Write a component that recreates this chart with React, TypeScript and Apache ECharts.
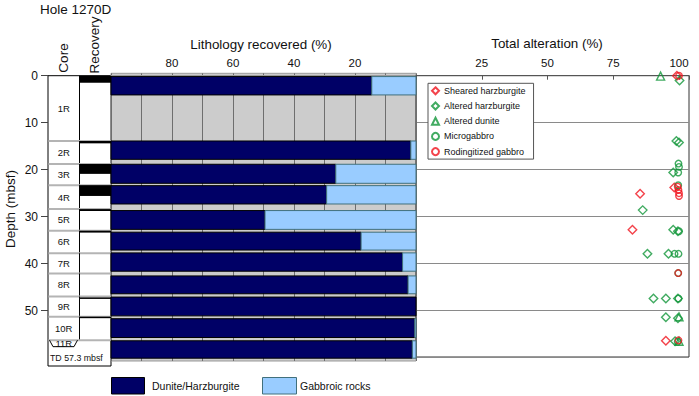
import React, { useEffect, useRef } from 'react';
import * as echarts from 'echarts';

const FONT = "'Liberation Sans', Arial, Helvetica, sans-serif";

// Cores (depth intervals, mbsf)
const coreNames = ['1R', '2R', '3R', '4R', '5R', '6R', '7R', '8R', '9R', '10R', '11R'];
const coreTop = [0, 13.9, 18.8, 23.3, 28.4, 33.0, 37.8, 42.1, 47.0, 51.3, 56.3];
const coreBottom = [13.9, 18.8, 23.3, 28.4, 33.0, 37.8, 42.1, 47.0, 51.3, 56.3, 61.8];
const tdLabel = 'TD 57.3 mbsf';

// Recovered intervals (black in the Recovery column)
const recoveryTop = [0, 13.9, 18.8, 23.3, 28.4, 33.0, 47.2, 51.3];
const recoveryBottom = [1.5, 14.4, 20.9, 25.6, 28.8, 33.4, 47.5, 51.6];

// Lithology bars (depth extent and gabbroic %; remainder is dunite/harzburgite)
const lithTop = [0.2, 13.9, 18.85, 23.4, 28.7, 33.3, 37.7, 42.6, 47.1, 51.7, 56.4];
const lithBottom = [4.1, 17.8, 22.9, 27.3, 32.7, 37.1, 41.6, 46.4, 51.1, 55.7, 60.1];
const gabbroPct = [14.5, 1.7, 26.3, 29.3, 49.5, 18.0, 4.4, 2.6, 0.0, 0.4, 1.2];

// Tick labels
const depthTicks = [0, 10, 20, 30, 40, 50];
const lithTicks = [20, 40, 60, 80];
const altTicks = [25, 50, 75, 100];

// Total alteration (%) vs depth (mbsf): [alteration, depth]
const shearedHarzburgite = [[99.2, 0.0], [98.2, 23.8], [85.2, 25.1], [82.3, 32.8], [95.0, 56.4]];
const alteredHarzburgite = [
  [100.2, 1.0], [99.0, 13.9], [100.0, 14.2], [97.8, 20.6], [86.2, 28.6], [97.8, 32.8],
  [99.6, 33.1], [88.0, 37.9], [96.0, 37.9], [90.3, 47.4], [95.0, 47.4], [99.6, 47.4],
  [95.0, 51.4], [99.6, 51.6], [98.5, 56.5],
];
const alteredDunite = [[93.0, 0.1], [100.0, 51.3], [100.0, 56.5]];
const microgabbro = [
  [99.8, 18.7], [100.0, 19.4], [99.7, 20.6], [99.7, 23.3], [100.0, 33.1], [98.3, 37.9],
  [99.8, 37.9], [99.7, 42.0], [99.8, 47.4], [99.5, 56.6],
];
const rodingitizedGabbro = [[100.0, 0.0], [99.5, 23.6], [99.8, 24.3], [100.0, 25.0], [100.0, 25.6], [99.7, 42.0], [99.8, 56.3]];

const RED = '#f0141e';
const GREEN = '#12963a';
const DARK = '#000066';
const LIGHT = '#99ccff';

function buildOption(): any {
  const scatterSeries = (name: string, data: number[][], symbol: string, size: number, color: string) => ({
    type: 'scatter',
    name,
    xAxisIndex: 2,
    yAxisIndex: 2,
    data,
    symbol,
    symbolSize: size,
    clip: false,
    itemStyle: { color: 'rgba(255,255,255,0)', borderColor: color, borderWidth: 1.4 },
    emphasis: { disabled: true },
    z: 5,
  });

  return {
    animation: false,
    backgroundColor: '#ffffff',
    textStyle: { fontFamily: FONT },
    grid: [
      { left: 48, top: 75.7, width: 63, height: 290.3, show: true, borderColor: '#000', borderWidth: 1, backgroundColor: '#fff', outerBoundsMode: 'none' },
      { left: 111, top: 73.3, width: 305, height: 287.7, show: true, borderColor: '#9a9a9a', borderWidth: 1, backgroundColor: '#cccccc', outerBoundsMode: 'none' },
      { left: 416, top: 75.7, width: 273, height: 281.3, show: true, borderColor: '#333', borderWidth: 1, backgroundColor: '#fff', outerBoundsMode: 'none' },
    ],
    xAxis: [
      { gridIndex: 0, type: 'value', min: 0, max: 2, show: false },
      {
        gridIndex: 1, type: 'value', min: 0, max: 100, interval: 10, inverse: true, position: 'top',
        axisLine: { show: true, lineStyle: { color: '#9a9a9a' } },
        axisTick: { show: false },
        axisLabel: {
          margin: 4, fontSize: 11.5, color: '#111', fontFamily: FONT,
          formatter: (v: number) => (lithTicks.indexOf(v) >= 0 ? String(v) : ''),
        },
        splitLine: { show: true, lineStyle: { color: '#6e6e6e', width: 1 } },
      },
      {
        gridIndex: 2, type: 'value', min: 0, max: 103.8, interval: 25, position: 'top',
        axisLine: { show: true, lineStyle: { color: '#555' } },
        axisTick: { show: true, inside: true, length: 4, lineStyle: { color: '#555' } },
        axisLabel: {
          margin: 7, fontSize: 11.5, color: '#111', fontFamily: FONT,
          formatter: (v: number) => (altTicks.indexOf(v) >= 0 ? String(v) : ''),
        },
        splitLine: { show: false },
      },
    ],
    yAxis: [
      {
        gridIndex: 0, type: 'value', inverse: true, min: 0, max: 61.8,
        axisLine: { show: false },
        axisTick: { show: true, length: 7, customValues: depthTicks, lineStyle: { color: '#444' } },
        axisLabel: { margin: 10, fontSize: 12, color: '#111', fontFamily: FONT, customValues: depthTicks },
        splitLine: { show: false },
      },
      { gridIndex: 1, type: 'value', inverse: true, min: -0.5, max: 60.7, show: false },
      {
        gridIndex: 2, type: 'value', inverse: true, min: 0, max: 59.85, interval: 10,
        axisLine: { show: false }, axisTick: { show: false }, axisLabel: { show: false },
        splitLine: { show: true, lineStyle: { color: '#8a8a8a', width: 1 } },
      },
    ],
    legend: {
      data: ['Sheared harzburgite', 'Altered harzburgite', 'Altered dunite', 'Microgabbro', 'Rodingitized gabbro'],
      orient: 'vertical',
      left: 428,
      top: 83.3,
      padding: [2, 8, 2, 3],
      itemGap: 4.2,
      itemWidth: 7,
      itemHeight: 7,
      backgroundColor: '#fff',
      borderColor: '#555',
      borderWidth: 1,
      borderRadius: 0,
      textStyle: { fontSize: 9, lineHeight: 11, color: '#111', fontFamily: FONT },
      selectedMode: false,
    },
    series: [
      {
        type: 'custom',
        name: 'cores',
        xAxisIndex: 0,
        yAxisIndex: 0,
        data: coreNames.map((n, i) => [i, coreTop[i], coreBottom[i]]),
        encode: { x: 0, y: [1, 2] },
        clip: false,
        z: 3,
        renderItem: (params: any, api: any) => {
          const i = params.dataIndex;
          const top = api.value(1);
          const bot = api.value(2);
          const tl = api.coord([0, top]);
          const br = api.coord([2, bot]);
          const mid = api.coord([1, top]);
          const xL = tl[0], xR = br[0], xD = mid[0], yT = tl[1], yB = br[1];
          const children: any[] = [];
          if (i > 0) {
            children.push({ type: 'line', shape: { x1: xL + 0.5, y1: yT, x2: xR - 0.5, y2: yT }, style: { stroke: '#b4b4b4', lineWidth: 2 } });
          }
          if (i < coreNames.length - 1) {
            children.push({ type: 'line', shape: { x1: xD, y1: yT, x2: xD, y2: yB }, style: { stroke: '#000', lineWidth: 1 } });
            children.push({
              type: 'text',
              style: { text: coreNames[i], x: (xL + xD) / 2, y: (yT + yB) / 2, align: 'center', verticalAlign: 'middle', fontSize: 9.5, fontFamily: FONT, fill: '#111' },
            });
          } else {
            children.push({
              type: 'polyline',
              shape: { points: [[xL + 1.5, yT], [xL + 5, yT + 6.5], [xD - 5.5, yT + 6.5], [xD - 2, yT]] },
              style: { stroke: '#000', lineWidth: 1, fill: 'none' },
            });
            children.push({
              type: 'text',
              style: { text: coreNames[i], x: (xL + xD) / 2, y: yT + 3.4, align: 'center', verticalAlign: 'middle', fontSize: 9.5, fontFamily: FONT, fill: '#111' },
            });
            children.push({
              type: 'text',
              style: { text: tdLabel, x: xL + 2, y: yT + 18, align: 'left', verticalAlign: 'middle', fontSize: 8.8, fontFamily: FONT, fill: '#111' },
            });
          }
          return { type: 'group', children };
        },
      },
      {
        type: 'custom',
        name: 'recovery',
        xAxisIndex: 0,
        yAxisIndex: 0,
        data: recoveryTop.map((t, i) => [t, recoveryBottom[i]]),
        encode: { y: [0, 1] },
        clip: false,
        z: 4,
        renderItem: (params: any, api: any) => {
          const a = api.coord([1, api.value(0)]);
          const b = api.coord([2, api.value(1)]);
          return {
            type: 'rect',
            shape: { x: a[0], y: a[1], width: b[0] - a[0], height: Math.max(1.5, b[1] - a[1]) },
            style: { fill: '#000' },
          };
        },
      },
      {
        type: 'custom',
        name: 'lithology',
        xAxisIndex: 1,
        yAxisIndex: 1,
        data: lithTop.map((t, i) => [t, lithBottom[i], gabbroPct[i]]),
        encode: { x: 2, y: [0, 1] },
        z: 3,
        renderItem: (params: any, api: any) => {
          const top = api.value(0);
          const bot = api.value(1);
          const g = api.value(2);
          const a = api.coord([100, top]);
          const b = api.coord([g, bot]);
          const c = api.coord([0, bot]);
          const children: any[] = [
            { type: 'rect', shape: { x: a[0], y: a[1], width: b[0] - a[0], height: b[1] - a[1] }, style: { fill: DARK, stroke: '#000', lineWidth: 1 } },
          ];
          if (c[0] - b[0] > 0.5) {
            children.push({ type: 'rect', shape: { x: b[0], y: a[1], width: c[0] - b[0], height: b[1] - a[1] }, style: { fill: LIGHT, stroke: '#41707c', lineWidth: 1 } });
          }
          return { type: 'group', children };
        },
      },
      scatterSeries('Sheared harzburgite', shearedHarzburgite, 'diamond', 8.5, RED),
      scatterSeries('Altered harzburgite', alteredHarzburgite, 'diamond', 8.5, GREEN),
      scatterSeries('Altered dunite', alteredDunite, 'triangle', 8, GREEN),
      scatterSeries('Microgabbro', microgabbro, 'circle', 6.5, GREEN),
      scatterSeries('Rodingitized gabbro', rodingitizedGabbro, 'circle', 6.5, RED),
    ],
    graphic: [
      { type: 'text', left: 40, top: 2, style: { text: 'Hole 1270D', fontSize: 13.5, fontFamily: FONT, fill: '#111' } },
      { type: 'text', x: 63, y: 58, rotation: Math.PI / 2, style: { text: 'Core', fontSize: 13.5, fontFamily: FONT, fill: '#111', align: 'center', verticalAlign: 'middle' } },
      { type: 'text', x: 94, y: 45, rotation: Math.PI / 2, style: { text: 'Recovery', fontSize: 13.5, fontFamily: FONT, fill: '#111', align: 'center', verticalAlign: 'middle' } },
      { type: 'text', x: 10, y: 209, rotation: Math.PI / 2, style: { text: 'Depth (mbsf)', fontSize: 13.5, fontFamily: FONT, fill: '#111', align: 'center', verticalAlign: 'middle' } },
      { type: 'text', x: 261, y: 44, style: { text: 'Lithology recovered (%)', fontSize: 13.4, fontFamily: FONT, fill: '#111', align: 'center', verticalAlign: 'middle' } },
      { type: 'text', x: 547, y: 43.5, style: { text: 'Total alteration (%)', fontSize: 13.4, fontFamily: FONT, fill: '#111', align: 'center', verticalAlign: 'middle' } },
      { type: 'rect', shape: { x: 111.5, y: 377.5, width: 33, height: 16.5 }, style: { fill: DARK, stroke: '#000', lineWidth: 1 } },
      { type: 'text', x: 152, y: 386, style: { text: 'Dunite/Harzburgite', fontSize: 10.5, fontFamily: FONT, fill: '#111', verticalAlign: 'middle' } },
      { type: 'rect', shape: { x: 262.5, y: 377.5, width: 34, height: 16.5 }, style: { fill: LIGHT, stroke: '#41707c', lineWidth: 1 } },
      { type: 'text', x: 300, y: 386, style: { text: 'Gabbroic rocks', fontSize: 10.5, fontFamily: FONT, fill: '#111', verticalAlign: 'middle' } },
    ],
  };
}

export default function App() {
  const ref = useRef<HTMLDivElement>(null);
  useEffect(() => {
    if (!ref.current) return;
    const chart = echarts.init(ref.current, null, { renderer: 'svg' });
    chart.setOption(buildOption());
    return () => {
      chart.dispose();
    };
  }, []);
  return (
    <div
      ref={ref}
      style={{ position: 'fixed', left: 0, top: 0, width: 699, height: 396, background: '#fff' }}
    />
  );
}
